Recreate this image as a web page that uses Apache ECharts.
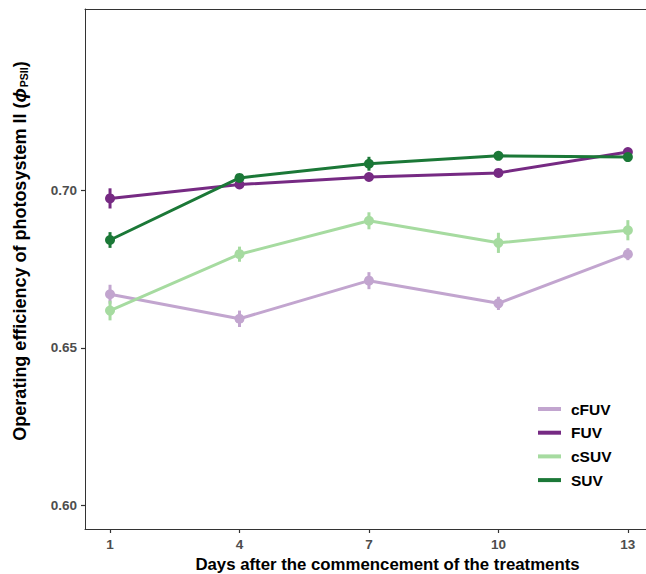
<!DOCTYPE html>
<html>
<head>
<meta charset="utf-8">
<script src="https://cdn.jsdelivr.net/npm/echarts@6/dist/echarts.min.js"></script>
<style>
  html, body { margin: 0; padding: 0; background: #fff; }
  #chart { width: 646px; height: 574px; }
</style>
</head>
<body>
<div id="chart"></div>
<script>
var days = [1, 4, 7, 10, 13];
var dayTicks = [1, 4, 7, 10, 13];
var yTicks = [0.60, 0.65, 0.70];

// means and standard errors
var cFUV = [0.6670, 0.6592, 0.6713, 0.6641, 0.6797];
var cFUVse = [0.0030, 0.0026, 0.0027, 0.0021, 0.0019];
var FUV = [0.6974, 0.7018, 0.7042, 0.7055, 0.7121];
var FUVse = [0.0032, 0.0010, 0.0008, 0.0008, 0.0008];
var cSUV = [0.6618, 0.6797, 0.6903, 0.6833, 0.6873];
var cSUVse = [0.0031, 0.0024, 0.0027, 0.0032, 0.0032];
var SUV = [0.6842, 0.7039, 0.7084, 0.7109, 0.7105];
var SUVse = [0.0025, 0.0008, 0.0022, 0.0009, 0.0009];

var groups = [
  { name: 'cFUV', mean: cFUV, se: cFUVse, color: '#c2a5cf' },
  { name: 'FUV', mean: FUV, se: FUVse, color: '#762a83' },
  { name: 'cSUV', mean: cSUV, se: cSUVse, color: '#a6dba0' },
  { name: 'SUV', mean: SUV, se: SUVse, color: '#1b7837' }
];

var font = 'Liberation Sans, Arial, Helvetica, sans-serif';
var chart = echarts.init(document.getElementById('chart'), null, { renderer: 'svg' });

var series = [];
groups.forEach(function (g, i) {
  // error bars
  series.push({
    name: g.name + ' se',
    type: 'custom',
    z: 2 + i * 3,
    silent: true,
    encode: { x: 0, y: [1, 2] },
    data: days.map(function (d, k) { return [d, g.mean[k] - g.se[k], g.mean[k] + g.se[k]]; }),
    renderItem: function (params, api) {
      var a = api.coord([api.value(0), api.value(1)]);
      var b = api.coord([api.value(0), api.value(2)]);
      return {
        type: 'line',
        shape: { x1: a[0], y1: a[1], x2: b[0], y2: b[1] },
        style: { stroke: g.color, lineWidth: 3 }
      };
    }
  });
  series.push({
    name: g.name,
    type: 'line',
    z: 3 + i * 3,
    data: days.map(function (d, k) { return [d, g.mean[k]]; }),
    symbol: 'circle',
    symbolSize: 10,
    showSymbol: true,
    itemStyle: { color: g.color },
    lineStyle: { color: g.color, width: 3 }
  });
});

var option = {
  animation: false,
  backgroundColor: '#fff',
  grid: { left: 85, top: 9, right: 0, height: 520, containLabel: false, outerBoundsMode: 'none' },
  legend: {
    data: groups.map(function (g) { return g.name; }),
    orient: 'vertical',
    left: 533,
    top: 396,
    icon: 'rect',
    itemWidth: 23,
    itemHeight: 4,
    itemGap: 7.7,
    textStyle: { fontFamily: font, fontWeight: 'bold', fontSize: 15.5, color: '#000', lineHeight: 16, padding: [0, 0, 0, 5] }
  },
  xAxis: [{
    type: 'value',
    min: 0.42,
    max: 13.42,
    name: 'Days after the commencement of the treatments',
    nameLocation: 'middle',
    nameGap: 26,
    nameTextStyle: { fontFamily: font, fontWeight: 'bold', fontSize: 16.8, color: '#000', padding: [0, 0, 0, 44] },
    axisLine: { show: true, lineStyle: { color: '#333', width: 1 } },
    axisTick: { show: true, length: 4, lineStyle: { color: '#333', width: 1.2 }, customValues: dayTicks },
    axisLabel: { customValues: dayTicks, margin: 8, fontFamily: font, fontWeight: 'bold', fontSize: 13.5, color: '#4d4d4d' },
    splitLine: { show: false }
  }, {
    type: 'value',
    position: 'top',
    min: 0.42,
    max: 13.42,
    axisLine: { show: true, lineStyle: { color: '#333', width: 1 } },
    axisTick: { show: false },
    axisLabel: { show: false },
    splitLine: { show: false }
  }],
  yAxis: {
    type: 'value',
    min: 0.5925,
    max: 0.7575,
    name: 'Operating efficiency of photosystem II ({phi|ϕ}{sub|PSII})',
    nameLocation: 'middle',
    nameGap: 56,
    nameTextStyle: {
      fontFamily: font, fontWeight: 'bold', fontSize: 18, color: '#000', padding: [0, 0, 0, 36],
      rich: {
        phi: { fontFamily: font, fontWeight: 'bold', fontStyle: 'italic', fontSize: 19, color: '#000' },
        sub: { fontFamily: font, fontWeight: 'bold', fontSize: 10.5, color: '#000', verticalAlign: 'bottom', padding: [7, 0, 0, 1] }
      }
    },
    axisLine: { show: true, lineStyle: { color: '#333', width: 1 } },
    axisTick: { show: true, length: 4, lineStyle: { color: '#333', width: 1.2 }, customValues: yTicks },
    axisLabel: {
      customValues: yTicks, margin: 8, fontFamily: font, fontWeight: 'bold', fontSize: 13.5, color: '#4d4d4d',
      formatter: function (v) { return v.toFixed(2); }
    },
    splitLine: { show: false }
  },
  series: series
};

chart.setOption(option);
</script>
</body>
</html>
